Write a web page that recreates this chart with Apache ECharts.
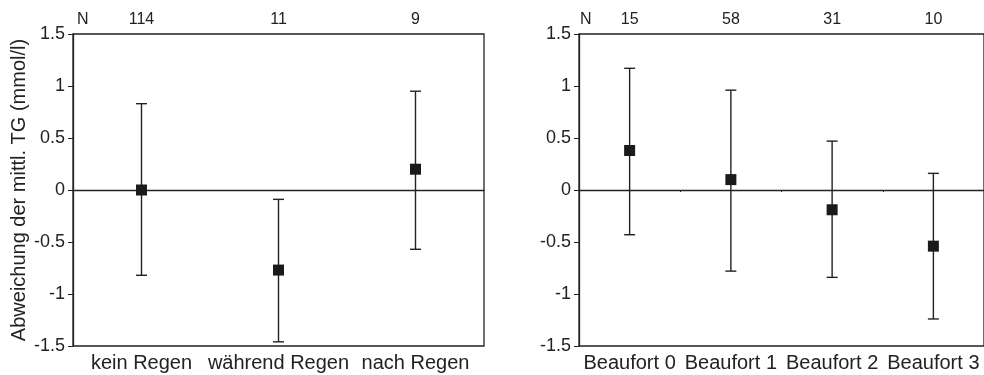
<!DOCTYPE html>
<html>
<head>
<meta charset="utf-8">
<script src="https://cdn.jsdelivr.net/npm/echarts@6/dist/echarts.min.js"></script>
<style>
html,body{margin:0;padding:0;background:#fff;}
#c{width:984px;height:375px;}
</style>
</head>
<body>
<div id="c"></div>
<script>
// ---- data ----
const leftCats = ['kein Regen', 'während Regen', 'nach Regen'];
const leftN = ['114', '11', '9'];
const leftMean = [0.00, -0.77, 0.20];
const leftLow = [-0.82, -1.46, -0.57];
const leftHigh = [0.83, -0.09, 0.95];

const rightCats = ['Beaufort 0', 'Beaufort 1', 'Beaufort 2', 'Beaufort 3'];
const rightN = ['15', '58', '31', '10'];
const rightMean = [0.38, 0.10, -0.19, -0.54];
const rightLow = [-0.43, -0.78, -0.84, -1.24];
const rightHigh = [1.17, 0.96, 0.47, 0.16];

const yMin = -1.5, yMax = 1.5, yStep = 0.5;
const yName = 'Abweichung der mittl. TG (mmol/l)';

// ---- styles ----
const INK = '#222';
const FONT = '"Liberation Sans", Arial, Helvetica, sans-serif';

function errData(low, high) {
  return low.map((l, i) => [i, l, high[i]]);
}
function renderErr(params, api) {
  const lo = api.coord([api.value(0), api.value(1)]);
  const hi = api.coord([api.value(0), api.value(2)]);
  const cap = 5.5;
  const st = { stroke: INK, lineWidth: 1.4 };
  return {
    type: 'group',
    children: [
      { type: 'line', shape: { x1: lo[0], y1: lo[1], x2: hi[0], y2: hi[1] }, style: st },
      { type: 'line', shape: { x1: lo[0] - cap, y1: lo[1], x2: lo[0] + cap, y2: lo[1] }, style: st },
      { type: 'line', shape: { x1: hi[0] - cap, y1: hi[1], x2: hi[0] + cap, y2: hi[1] }, style: st }
    ]
  };
}

function catAxis(grid, data, pos, fontSize, margin) {
  return {
    type: 'category', gridIndex: grid, data: data, position: pos,
    axisLine: { show: false, onZero: false }, axisTick: { show: false },
    axisLabel: { color: INK, fontSize: fontSize, fontFamily: FONT, margin: margin, interval: 0 },
    splitLine: { show: false }
  };
}
function zeroAxis(grid, data, ticks) {
  return {
    type: 'category', gridIndex: grid, data: data, position: 'bottom',
    axisLine: { show: true, onZero: true, lineStyle: { color: INK, width: 1.3 } },
    axisTick: { show: ticks, length: 2, lineStyle: { color: INK } },
    axisLabel: { show: false }, splitLine: { show: false }
  };
}
function valAxis(grid, name) {
  return {
    type: 'value', gridIndex: grid, min: yMin, max: yMax, interval: yStep,
    axisLine: { show: true, onZero: false, lineStyle: { color: INK, width: 1.3 } },
    axisTick: { show: true, length: 5, lineStyle: { color: INK } },
    axisLabel: { color: INK, fontSize: 18, fontFamily: FONT, margin: 8 },
    splitLine: { show: false },
    name: name || '', nameLocation: 'middle', nameGap: 44,
    nameTextStyle: { color: INK, fontSize: 20, fontFamily: FONT }
  };
}

const chart = echarts.init(document.getElementById('c'), null, { renderer: 'canvas' });
chart.setOption({
  backgroundColor: '#fff',
  animation: false,
  grid: [
    { left: 73, top: 34, width: 411, height: 312, show: true, borderColor: INK, borderWidth: 1.3 },
    { left: 579, top: 34, width: 412, height: 312, show: true, borderColor: INK, borderWidth: 1.3 }
  ],
  xAxis: [
    catAxis(0, leftCats, 'bottom', 20, 7),
    catAxis(0, leftN, 'top', 16, 6),
    catAxis(1, rightCats, 'bottom', 20, 7),
    catAxis(1, rightN, 'top', 16, 6),
    zeroAxis(0, leftCats, false),
    zeroAxis(1, rightCats, true)
  ],
  yAxis: [ valAxis(0, yName), valAxis(1) ],
  graphic: [
    { type: 'text', left: 77, top: 12, style: { text: 'N', fill: INK, font: '16px ' + FONT } },
    { type: 'text', left: 580, top: 12, style: { text: 'N', fill: INK, font: '16px ' + FONT } }
  ],
  series: [
    { type: 'custom', xAxisIndex: 0, yAxisIndex: 0, data: errData(leftLow, leftHigh),
      renderItem: renderErr, encode: { x: 0, y: [1, 2] }, z: 3 },
    { type: 'scatter', xAxisIndex: 0, yAxisIndex: 0, data: leftMean,
      symbol: 'rect', symbolSize: 11, itemStyle: { color: '#1a1a1a', opacity: 1 }, z: 4 },
    { type: 'custom', xAxisIndex: 2, yAxisIndex: 1, data: errData(rightLow, rightHigh),
      renderItem: renderErr, encode: { x: 0, y: [1, 2] }, z: 3 },
    { type: 'scatter', xAxisIndex: 2, yAxisIndex: 1, data: rightMean,
      symbol: 'rect', symbolSize: 11, itemStyle: { color: '#1a1a1a', opacity: 1 }, z: 4 }
  ]
});
</script>
</body>
</html>
